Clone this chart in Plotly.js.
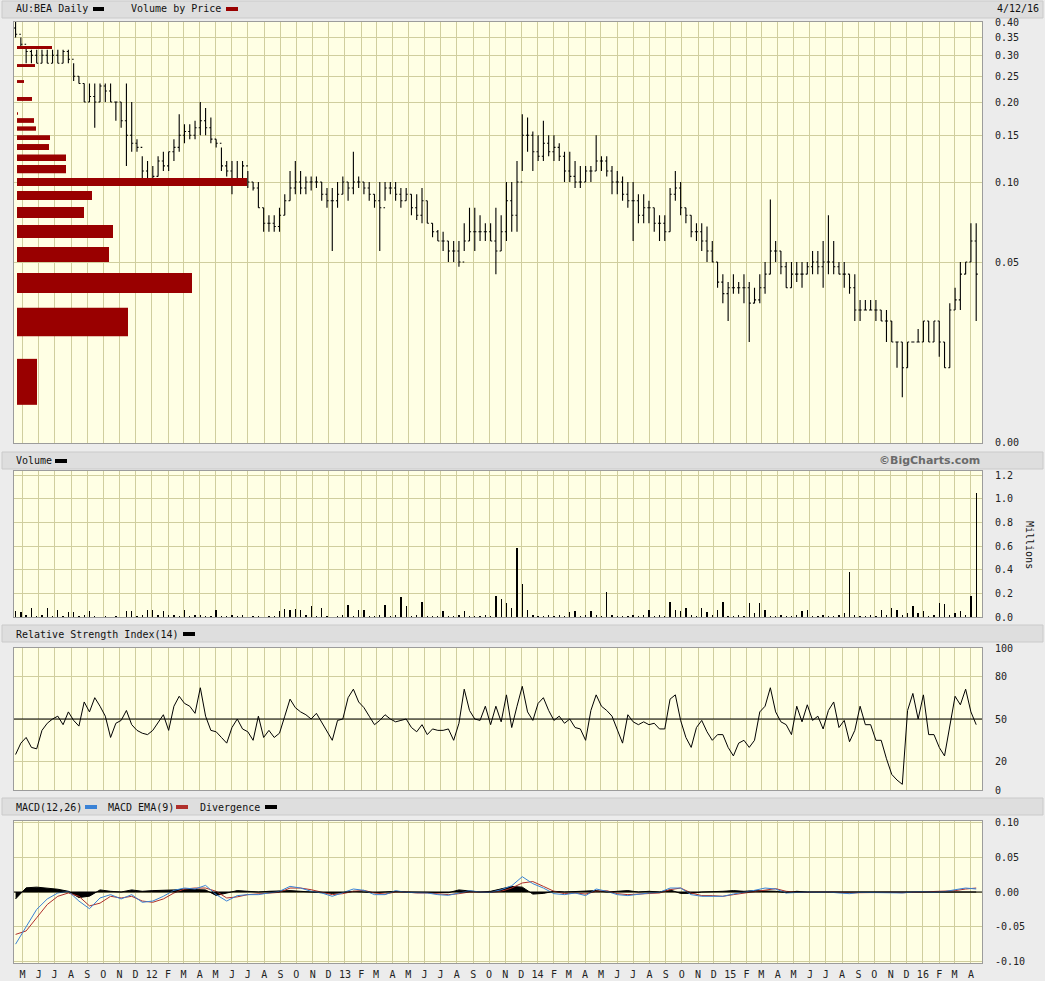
<!DOCTYPE html>
<html>
<head>
<meta charset="utf-8">
<script src="https://cdn.plot.ly/plotly-3.0.1.min.js"></script>
<style>
  html, body { margin: 0; padding: 0; background: #ececec; }
  #chart { width: 1045px; height: 981px; }
</style>
</head>
<body>
<div id="chart"></div>
<script>
/* AU:BEA daily chart (BigCharts style): price + volume by price, volume, RSI(14), MACD */

// price bars, one every 10 days from 2011-04-18
const priceStart = "2011-04-18";
const priceStepDays = 10;

const priceHigh = [
  .40, .35, .32, .315, .315, .315, .315, .315, .315, .315,
  .315, .28, .25, .235, .235, .235, .235, .235, .235, .20,
  .20, .235, .20, .145, .125, .12, .115, .125, .13, .13,
  .145, .18, .165, .165, .17, .20, .19, .175, .145, .135,
  .12, .12, .12, .12, .11, .10, .10, .08, .075, .075,
  .08, .09, .11, .12, .11, .105, .105, .105, .10, .095,
  .095, .10, .105, .10, .13, .105, .10, .10, .09, .10,
  .10, .10, .10, .095, .095, .09, .09, .095, .085, .07,
  .066, .065, .06, .06, .06, .07, .08, .08, .075, .07,
  .07, .08, .075, .10, .10, .12, .18, .175, .155, .15,
  .17, .15, .15, .14, .13, .13, .12, .115, .115, .115,
  .15, .125, .125, .115, .11, .105, .10, .10, .09, .09,
  .085, .08, .075, .075, .095, .11, .10, .08, .075, .07,
  .07, .068, .06, .05, .045, .042, .045, .042, .045, .042,
  .04, .045, .05, .086, .06, .055, .05, .05, .05, .05,
  .05, .055, .055, .06, .075, .06, .05, .05, .045, .045,
  .036, .036, .036, .036, .033, .033, .03, .025, .025, .025,
  .025, .028, .03, .03, .03, .03, .025, .035, .04, .05,
  .05, .07, .07
];
const priceLow = [
  .35, .32, .28, .28, .28, .28, .28, .28, .28, .28,
  .28, .24, .235, .20, .20, .16, .20, .20, .20, .17,
  .16, .115, .13, .13, .10, .10, .10, .105, .11, .11,
  .12, .13, .14, .145, .145, .15, .15, .14, .135, .11,
  .105, .09, .10, .10, .095, .093, .08, .065, .065, .065,
  .065, .075, .085, .09, .09, .09, .093, .095, .085, .08,
  .055, .08, .09, .085, .09, .095, .09, .085, .08, .055,
  .085, .09, .085, .08, .085, .075, .072, .07, .07, .062,
  .06, .055, .05, .05, .048, .055, .06, .055, .06, .06,
  .06, .045, .055, .06, .065, .065, .11, .13, .11, .12,
  .12, .125, .12, .12, .10, .10, .095, .095, .10, .10,
  .11, .11, .105, .09, .09, .085, .08, .06, .07, .07,
  .07, .065, .06, .06, .065, .085, .075, .07, .062, .06,
  .055, .05, .05, .04, .035, .03, .038, .038, .035, .025,
  .035, .035, .038, .045, .05, .045, .04, .04, .042, .04,
  .045, .045, .045, .04, .045, .045, .045, .04, .038, .03,
  .03, .033, .033, .03, .03, .025, .025, .02, .0155, .02,
  .025, .025, .025, .025, .025, .022, .02, .02, .033, .033,
  .045, .05, .03
];
const priceClose = [
  .36, .33, .31, .30, .28, .30, .28, .30, .28, .31,
  .29, .25, .235, .20, .21, .20, .23, .22, .20, .20,
  .17, .15, .14, .135, .11, .10, .105, .12, .115, .13,
  .135, .15, .155, .15, .16, .17, .16, .145, .14, .115,
  .11, .10, .10, .115, .10, .095, .08, .07, .07, .068,
  .075, .085, .095, .10, .095, .10, .10, .10, .09, .085,
  .085, .09, .10, .095, .10, .10, .095, .09, .085, .08,
  .095, .095, .09, .085, .09, .08, .075, .085, .07, .065,
  .06, .06, .055, .055, .05, .06, .065, .065, .065, .065,
  .06, .055, .065, .085, .075, .10, .15, .15, .13, .125,
  .14, .13, .135, .125, .11, .105, .10, .10, .11, .11,
  .12, .12, .11, .10, .10, .09, .085, .085, .075, .08,
  .08, .07, .07, .065, .09, .095, .08, .075, .065, .065,
  .06, .055, .05, .042, .038, .04, .04, .04, .04, .035,
  .036, .04, .045, .055, .055, .048, .04, .045, .045, .045,
  .048, .05, .048, .05, .05, .048, .045, .045, .04, .033,
  .033, .033, .033, .033, .03, .03, .025, .025, .02, .025,
  .025, .025, .03, .025, .03, .025, .02, .033, .036, .045,
  .05, .06, .045
];

// volume (millions), same dates as the price bars
const volume = [
  .05, .04, .02, .08, .01, .02, .08, .01, .06, .01,
  .04, .04, .01, .02, .05, .01, .00, .01, .00, .01,
  .00, .05, .05, .01, .02, .06, .06, .02, .05, .02,
  .02, .01, .06, .01, .02, .02, .01, .01, .06, .01,
  .01, .02, .01, .02, .00, .01, .01, .00, .01, .01,
  .05, .07, .06, .07, .06, .02, .09, .01, .08, .01,
  .00, .01, .02, .10, .01, .06, .06, .01, .01, .02,
  .10, .01, .02, .17, .09, .01, .02, .13, .01, .01,
  .01, .05, .01, .01, .02, .05, .01, .01, .01, .02,
  .01, .18, .15, .12, .08, .58, .28, .06, .02, .01,
  .01, .02, .01, .02, .01, .04, .05, .01, .02, .05,
  .02, .01, .21, .02, .01, .01, .01, .02, .01, .02,
  .06, .01, .02, .01, .13, .06, .05, .08, .02, .01,
  .08, .04, .02, .06, .13, .01, .01, .02, .01, .12,
  .03, .12, .06, .01, .01, .02, .01, .01, .02, .05,
  .06, .01, .01, .02, .01, .01, .02, .03, .38, .02,
  .01, .01, .02, .01, .06, .02, .08, .06, .02, .03,
  .09, .03, .05, .01, .02, .12, .11, .02, .03, .05,
  .02, .18, 1.05
];

// RSI(14), same dates
const rsi = [
  25, 33, 37, 30, 29, 42, 47, 50, 52, 46,
  55, 49, 45, 62, 55, 65, 59, 52, 37, 47,
  49, 56, 46, 42, 40, 39, 42, 48, 53, 42,
  59, 66, 61, 59, 54, 72, 52, 42, 41, 37,
  33, 44, 50, 43, 41, 35, 52, 37, 42, 37,
  40, 52, 64, 58, 55, 53, 50, 54, 48, 42,
  35, 49, 50, 65, 71, 62, 58, 52, 46, 49,
  53, 50, 48, 49, 50, 44, 41, 46, 39, 43,
  42, 42, 43, 35, 47, 71, 56, 50, 49, 59,
  46, 59, 48, 67, 44, 59, 73, 55, 49, 61,
  65, 56, 49, 52, 47, 50, 44, 43, 35, 56,
  67, 59, 56, 52, 43, 33, 53, 48, 46, 48,
  46, 47, 43, 43, 64, 67, 49, 37, 30, 44,
  49, 41, 35, 39, 39, 30, 24, 33, 35, 30,
  35, 55, 59, 72, 55, 48, 46, 39, 59, 48,
  60, 49, 52, 43, 56, 62, 44, 49, 34, 42,
  59, 46, 46, 35, 35, 22, 11, 7, 4, 56,
  68, 50, 67, 39, 39, 30, 24, 45, 66, 60,
  71, 55, 46
];

// MACD(12,26), its EMA(9) and the divergence histogram, one point every 20 days from 2011-04-18
const macdStepDays = 20;
const macdLine = [
  -.075, -.049, -.025, -.010, -.0014, .001, -.013, -.024, -.0086, -.0038,
  -.010, -.0038, -.0148, -.013, -.0062, .0024, .0057, .0043, .0095, -.0038,
  -.013, -.0052, -.0038, -.0038, -.0014, .001, .0081, .0057, .001, -.0014,
  -.0062, -.0005, .0043, .0024, -.0038, -.0038, .0019, -.0005, -.0014, -.0014,
  -.0038, -.0048, -.0014, .0019, 0, -.0005, .0033, .009, .022, .012,
  .0057, -.0024, -.0038, -.0014, -.0052, .0043, .001, -.0038, -.0052, -.0029,
  -.0014, -.0005, .0057, .0057, -.0038, -.0062, -.0062, -.0062, -.0029, -.0005,
  .0024, .0057, .0043, -.0014, -.0005, 0, -.0005, 0, -.0014, -.0024,
  -.0005, -.0005, -.0014, -.0005, -.0014, 0, .0005, -.0005, .0005, .0033,
  .0057, .0043
];
const macdSignal = [
  -.061, -.056, -.037, -.018, -.0062, -.0014, -.0062, -.020, -.016, -.0062,
  -.0086, -.0062, -.013, -.0148, -.010, -.0014, .0043, .0057, .0057, .001,
  -.0086, -.007, -.0038, -.0029, -.0024, -.0005, .0057, .0057, .0033, 0,
  -.0038, -.0024, .001, .0024, -.0014, -.0029, 0, 0, -.0014, -.0014,
  -.0024, -.0038, -.0024, 0, 0, -.0005, .001, .0057, .013, .015,
  .0081, .001, -.0024, -.0014, -.0029, .001, .0019, -.0024, -.0038, -.0033,
  -.0024, -.0014, .0033, .0057, -.0014, -.0052, -.0052, -.0062, -.0038, -.0014,
  .0005, .0033, .0048, .001, -.0005, -.0005, 0, 0, -.0005, -.0014,
  -.001, -.0005, -.001, -.0005, -.001, -.0005, 0, 0, .0005, .0019,
  .0043, .0057
];
const macdDivergence = [
  -.010, .006, .007, .006, .004, .001, -.008, -.006, .003, .001,
  0, .003, .001, .002, .002, .003, .004, .004, .003, -.005,
  -.002, .002, .001, 0, .001, .002, .002, .001, 0, 0,
  -.002, -.001, .001, 0, -.001, 0, .001, 0, 0, 0,
  0, -.001, .003, .001, 0, .001, .005, .008, .007, -.003,
  -.002, .001, 0, .001, .002, .002, 0, .001, .002, 0,
  .001, 0, .003, -.002, -.002, 0, 0, .001, .002, .001,
  .002, .002, .001, -.001, .001, 0, 0, 0, 0, 0,
  0, 0, 0, 0, 0, 0, 0, 0, .001, .001,
  .001, 0
];

// volume by price buckets (price range, relative volume)
const vbpLow = [.3165, .271, .236, .202, .179, .167, .156, .144, .132, .120, .108, .0966, .0856, .0732, .0616, .0500, .0382, .0263, .0145];
const vbpHigh = [.325, .278, .242, .209, .183, .174, .162, .150, .139, .127, .116, .1035, .0925, .0805, .0689, .0570, .0455, .0336, .0216];
const vbpVolume = [35, 18, 7, 15, 1, 17, 19, 33, 32, 49, 49, 230, 75, 67, 96, 92, 175, 111, 20];

const monthLabels = [
  "M", "J", "J", "A", "S", "O", "N", "D",
  "12", "F", "M", "A", "M", "J", "J", "A", "S", "O", "N", "D",
  "13", "F", "M", "A", "M", "J", "J", "A", "S", "O", "N", "D",
  "14", "F", "M", "A", "M", "J", "J", "A", "S", "O", "N", "D",
  "15", "F", "M", "A", "M", "J", "J", "A", "S", "O", "N", "D",
  "16", "F", "M", "A"
];

const priceTicks = [0.40, 0.35, 0.30, 0.25, 0.20, 0.15, 0.10, 0.05, 0.01045];
const priceTickText = ["0.40", "0.35", "0.30", "0.25", "0.20", "0.15", "0.10", "0.05", "0.00"];

/* ---------- helpers ---------- */
const W = 1045, H = 981;
const px = (x) => x / W;
const py = (y) => 1 - y / H;
const DAY = 86400000;

function dateSeq(start, stepDays, n) {
  const t0 = Date.parse(start + "T00:00:00Z");
  const out = [];
  for (let i = 0; i < n; i++) out.push(new Date(t0 + i * stepDays * DAY).toISOString().slice(0, 10));
  return out;
}

function monthStarts(year, month, n) {
  const out = [];
  for (let i = 0; i < n; i++) {
    const d = new Date(Date.UTC(year, month - 1 + i, 1));
    out.push(d.toISOString().slice(0, 10));
  }
  return out;
}

const priceDates = dateSeq(priceStart, priceStepDays, priceClose.length);
const macdDates = dateSeq(priceStart, macdStepDays, macdLine.length);
const priceOpen = priceClose.map((c, i) => (i === 0 ? 0.38 : priceClose[i - 1]));
const monthTicks = monthStarts(2011, 5, monthLabels.length);

const MONO = "DejaVu Sans Mono, monospace";
const GRID = "#d0ce9e";
const PLOT_BG = "#ffffe4";
const FRAME = "#9c9c9c";

/* ---------- traces ---------- */
const traces = [];

vbpVolume.forEach((v, k) => {
  traces.push({
    type: "scatter",
    mode: "lines",
    x: [0, v, v, 0, 0],
    y: [vbpLow[k], vbpLow[k], vbpHigh[k], vbpHigh[k], vbpLow[k]],
    xaxis: "x5",
    yaxis: "y",
    fill: "toself",
    fillcolor: "#990000",
    line: { width: 0, color: "#990000" },
    hoverinfo: "skip",
    showlegend: false,
  });
});

traces.push({
  type: "ohlc",
  x: priceDates,
  open: priceOpen,
  high: priceHigh,
  low: priceLow,
  close: priceClose,
  xaxis: "x",
  yaxis: "y",
  tickwidth: 0.3,
  increasing: { line: { color: "#000000", width: 1.1 } },
  decreasing: { line: { color: "#000000", width: 1.1 } },
  showlegend: false,
});

traces.push({
  type: "bar",
  x: priceDates,
  y: volume,
  xaxis: "x2",
  yaxis: "y2",
  width: 2.5 * DAY,
  marker: { color: "#000000", line: { width: 0 } },
  showlegend: false,
});

traces.push({
  type: "scatter",
  mode: "lines",
  x: priceDates,
  y: rsi,
  xaxis: "x3",
  yaxis: "y3",
  line: { color: "#000000", width: 1 },
  showlegend: false,
});

traces.push({
  type: "scatter",
  mode: "lines",
  x: macdDates,
  y: macdDivergence,
  xaxis: "x4",
  yaxis: "y4",
  fill: "tozeroy",
  fillcolor: "#000000",
  line: { color: "#000000", width: 1 },
  showlegend: false,
});
traces.push({
  type: "scatter",
  mode: "lines",
  x: macdDates,
  y: macdSignal,
  xaxis: "x4",
  yaxis: "y4",
  line: { color: "#b0302c", width: 1 },
  showlegend: false,
});
traces.push({
  type: "scatter",
  mode: "lines",
  x: macdDates,
  y: macdLine,
  xaxis: "x4",
  yaxis: "y4",
  line: { color: "#3a82d6", width: 1 },
  showlegend: false,
});

/* ---------- axes ---------- */
const xBase = {
  type: "date",
  range: ["2011-04-15", "2016-04-22"],
  domain: [px(14), px(982)],
  tickvals: monthTicks,
  ticktext: monthLabels,
  showgrid: true,
  gridcolor: GRID,
  gridwidth: 1,
  zeroline: false,
  showline: true,
  mirror: true,
  linecolor: FRAME,
  linewidth: 1,
  ticks: "",
  showticklabels: false,
  rangeslider: { visible: false },
  fixedrange: true,
};

const yBase = {
  side: "right",
  showgrid: true,
  gridcolor: GRID,
  gridwidth: 1,
  zeroline: false,
  showline: true,
  mirror: true,
  linecolor: FRAME,
  linewidth: 1,
  ticks: "outside",
  ticklen: 10,
  tickcolor: "rgba(0,0,0,0)",
  tickfont: { family: MONO, size: 10, color: "#222" },
  fixedrange: true,
};

const layout = {
  width: W,
  height: H,
  margin: { l: 0, r: 0, t: 0, b: 0, pad: 0 },
  paper_bgcolor: "#ececec",
  plot_bgcolor: PLOT_BG,
  showlegend: false,
  bargap: 0,

  xaxis: { ...xBase, anchor: "y" },
  xaxis2: { ...xBase, anchor: "y2", matches: "x" },
  xaxis3: { ...xBase, anchor: "y3", matches: "x" },
  xaxis4: {
    ...xBase,
    anchor: "y4",
    matches: "x",
    showticklabels: true,
    ticks: "outside",
    ticklen: 2,
    tickcolor: "rgba(0,0,0,0)",
    tickfont: { family: MONO, size: 10, color: "#222" },
  },
  xaxis5: { overlaying: "x", anchor: "y", range: [-3, 965], visible: false, fixedrange: true },

  yaxis: {
    ...yBase,
    anchor: "x",
    type: "log",
    domain: [py(443), py(22)],
    range: [Math.log10(0.010415), Math.log10(0.4003)],
    tickvals: priceTicks,
    ticktext: priceTickText,
  },
  yaxis2: {
    ...yBase,
    anchor: "x2",
    domain: [py(617), py(471)],
    range: [0, 1.234],
    tickvals: [0, 0.2, 0.4, 0.6, 0.8, 1.0, 1.2],
    ticktext: ["0.0", "0.2", "0.4", "0.6", "0.8", "1.0", "1.2"],
  },
  yaxis3: {
    ...yBase,
    anchor: "x3",
    domain: [py(790), py(648)],
    range: [0, 100],
    tickvals: [0, 20, 50, 80, 100],
  },
  yaxis4: {
    ...yBase,
    anchor: "x4",
    domain: [py(963), py(821)],
    range: [-0.1021, 0.1021],
    tickvals: [-0.10, -0.05, 0, 0.05, 0.10],
    ticktext: ["-0.10", "-0.05", "0.00", "0.05", "0.10"],
  },
};

/* ---------- panel headers, legend swatches, reference lines ---------- */
const strip = (y0, y1) => ({
  type: "rect", xref: "paper", yref: "paper", layer: "below",
  x0: px(2), x1: px(1043), y0: py(y1), y1: py(y0),
  fillcolor: "#dedede", line: { color: "#cacaca", width: 1 },
});
const swatch = (x0, x1, y, color) => ({
  type: "rect", xref: "paper", yref: "paper",
  x0: px(x0), x1: px(x1), y0: py(y + 2), y1: py(y - 2),
  fillcolor: color, line: { width: 0 },
});

layout.shapes = [
  strip(1, 18), strip(452, 469), strip(625, 642), strip(798, 815),
  swatch(93, 104, 9, "#000000"),
  swatch(226, 238, 9, "#990000"),
  swatch(55, 67, 461, "#000000"),
  swatch(183, 195, 634, "#000000"),
  swatch(85, 97, 807, "#3a82d6"),
  swatch(176, 188, 807, "#b0302c"),
  swatch(265, 277, 807, "#000000"),
  {
    type: "line", xref: "x3 domain", yref: "y3",
    x0: 0, x1: 1, y0: 50, y1: 50,
    line: { color: "#000000", width: 1.2 },
  },
  {
    type: "line", xref: "x4 domain", yref: "y4",
    x0: 0, x1: 1, y0: 0, y1: 0,
    line: { color: "#000000", width: 1.2 },
  },
];

const label = (text, x, y, opts = {}) => ({
  text, x: px(x), y: py(y), xref: "paper", yref: "paper",
  xanchor: opts.anchor || "left", yanchor: "middle", showarrow: false,
  textangle: opts.angle || 0,
  font: { family: opts.family || MONO, size: opts.size || 10, color: opts.color || "#111" },
});

layout.annotations = [
  label("AU:BEA Daily", 14, 9),
  label("Volume by Price", 129, 9),
  label("4/12/16", 1041, 9, { anchor: "right" }),
  label("Volume", 14, 461),
  label("<b>©BigCharts.com</b>", 982, 461, { anchor: "right", family: "DejaVu Sans, sans-serif", size: 11, color: "#6a6a6a" }),
  label("Relative Strength Index(14)", 14, 634),
  label("MACD(12,26)", 14, 807),
  label("MACD EMA(9)", 106, 807),
  label("Divergence", 198, 807),
  label("Millions", 1030, 545, { anchor: "center", angle: 90 }),
];

Plotly.newPlot("chart", traces, layout, { staticPlot: true, displayModeBar: false });
</script>
</body>
</html>
